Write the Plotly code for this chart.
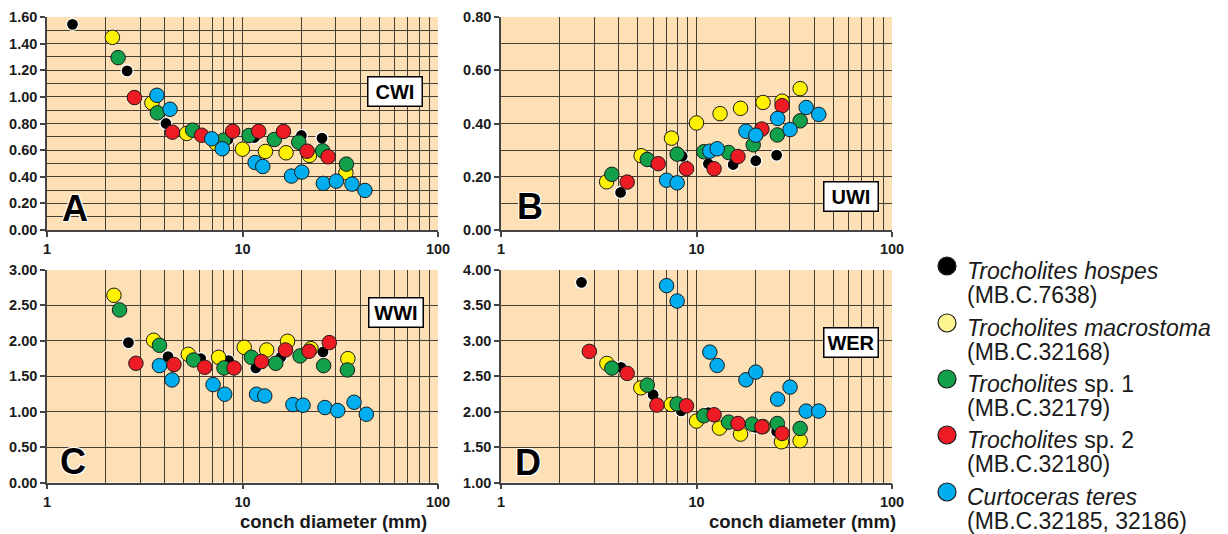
import plotly.graph_objects as go

# ---------------- data ----------------
series_names = ["Trocholites hospes", "Trocholites macrostoma", "Trocholites sp. 1",
                "Trocholites sp. 2", "Curtoceras teres"]
series_codes = ["(MB.C.7638)", "(MB.C.32168)", "(MB.C.32179)", "(MB.C.32180)",
                "(MB.C.32185, 32186)"]
series_colors = ["#000000", "#FFF200", "#12A04B", "#ED1C24", "#00AEEF"]
legend_colors = ["#000000", "#FFF590", "#12A04B", "#ED1C24", "#00AEEF"]

# Panel A: CWI
A_black_x = [1.35, 2.57, 4.06, 8.43, 11.5, 20.0, 25.5]
A_black_y = [1.545, 1.195, 0.80, 0.68, 0.695, 0.71, 0.69]
A_yellow_x = [2.16, 3.44, 5.18, 7.35, 10.0, 13.1, 16.7, 22.0, 33.8]
A_yellow_y = [1.447, 0.955, 0.725, 0.65, 0.607, 0.59, 0.58, 0.56, 0.43]
A_green_x = [2.31, 3.67, 5.56, 8.01, 10.8, 14.55, 19.4, 25.7, 34.0]
A_green_y = [1.295, 0.88, 0.75, 0.675, 0.71, 0.68, 0.66, 0.595, 0.495]
A_red_x = [2.80, 4.38, 6.18, 8.91, 12.1, 16.2, 21.4, 27.4]
A_red_y = [0.995, 0.735, 0.712, 0.742, 0.742, 0.74, 0.592, 0.55]
A_blue_x = [3.65, 4.26, 6.96, 7.88, 11.6, 12.7, 17.8, 20.1, 25.9, 30.2, 36.3, 42.3]
A_blue_y = [1.012, 0.907, 0.685, 0.61, 0.507, 0.477, 0.405, 0.435, 0.35, 0.367, 0.345, 0.297]

# Panel B: UWI
B_black_x = [4.09, 6.08, 8.45, 11.5, 15.4, 20.1, 25.7]
B_black_y = [0.141, 0.25, 0.277, 0.249, 0.246, 0.26, 0.281]
B_yellow_x = [3.47, 5.21, 7.45, 10.0, 13.2, 16.8, 21.9, 27.4, 33.9]
B_yellow_y = [0.181, 0.279, 0.345, 0.402, 0.437, 0.457, 0.479, 0.484, 0.531]
B_green_x = [3.69, 5.60, 7.96, 10.9, 14.6, 19.5, 25.9, 33.9]
B_green_y = [0.209, 0.265, 0.285, 0.294, 0.291, 0.32, 0.357, 0.41]
B_red_x = [4.42, 6.37, 8.89, 12.3, 16.3, 21.6, 27.4]
B_red_y = [0.18, 0.249, 0.23, 0.23, 0.276, 0.379, 0.467]
B_blue_x = [7.03, 7.96, 11.7, 12.75, 17.9, 20.1, 26.0, 30.1, 36.4, 42.2]
B_blue_y = [0.187, 0.177, 0.296, 0.305, 0.371, 0.356, 0.419, 0.377, 0.46, 0.434]

# Panel C: WWI
C_black_x = [2.61, 4.16, 6.11, 8.50, 11.7, 15.7, 25.8]
C_black_y = [1.975, 1.777, 1.749, 1.721, 1.617, 1.768, 1.843]
C_yellow_x = [2.20, 3.51, 5.28, 7.55, 10.2, 13.3, 17.0, 22.4, 34.6]
C_yellow_y = [2.643, 2.008, 1.81, 1.768, 1.909, 1.871, 1.994, 1.89, 1.749]
C_green_x = [2.35, 3.76, 5.62, 8.04, 11.1, 14.8, 19.7, 26.0, 34.4]
C_green_y = [2.436, 1.937, 1.73, 1.617, 1.768, 1.683, 1.787, 1.65, 1.589]
C_red_x = [2.85, 4.46, 6.41, 9.05, 12.5, 16.6, 21.9, 27.8]
C_red_y = [1.683, 1.665, 1.627, 1.617, 1.707, 1.871, 1.853, 1.975]
C_blue_x = [3.76, 4.36, 7.07, 8.11, 11.8, 13.0, 18.1, 20.4, 26.4, 30.7, 37.2, 43.0]
C_blue_y = [1.65, 1.448, 1.382, 1.246, 1.246, 1.222, 1.10, 1.091, 1.058, 1.016, 1.133, 0.964]

# Panel D: WER
D_black_x = [2.58, 4.11, 6.00, 8.35, 11.5, 20.0, 25.7]
D_black_y = [3.826, 2.625, 2.239, 2.012, 1.985, 1.78, 1.72]
D_yellow_x = [3.48, 5.19, 7.42, 10.0, 13.1, 16.8, 21.9, 27.2, 33.9]
D_yellow_y = [2.681, 2.337, 2.102, 1.867, 1.768, 1.683, 1.79, 1.575, 1.59]
D_green_x = [3.69, 5.60, 7.96, 10.9, 14.6, 19.3, 25.9, 33.9]
D_green_y = [2.615, 2.375, 2.11, 1.942, 1.852, 1.824, 1.833, 1.763]
D_red_x = [2.83, 4.42, 6.27, 8.89, 12.3, 16.3, 21.6, 27.4]
D_red_y = [2.851, 2.54, 2.093, 2.083, 1.956, 1.833, 1.786, 1.692]
D_blue_x = [7.03, 7.96, 11.7, 12.75, 17.9, 20.1, 26.0, 30.1, 36.4, 42.2]
D_blue_y = [3.779, 3.562, 2.841, 2.653, 2.45, 2.559, 2.177, 2.347, 2.008, 2.008]

panel_letters = ["A", "B", "C", "D"]
panel_indices = ["CWI", "UWI", "WWI", "WER"]
x_ticks = [1, 10, 100]
x_minor = [2, 3, 4, 5, 6, 7, 8, 9, 20, 30, 40, 50, 60, 70, 80, 90]
y_ranges = [(0, 1.6), (0, 0.8), (0, 3.0), (1.0, 4.0)]
y_dticks = [0.2, 0.2, 0.5, 0.5]
y_minor_dticks = [0.1, 0.1, None, None]
x_title = "conch diameter (mm)"

panels = [
    [(A_black_x, A_black_y), (A_yellow_x, A_yellow_y), (A_green_x, A_green_y), (A_red_x, A_red_y), (A_blue_x, A_blue_y)],
    [(B_black_x, B_black_y), (B_yellow_x, B_yellow_y), (B_green_x, B_green_y), (B_red_x, B_red_y), (B_blue_x, B_blue_y)],
    [(C_black_x, C_black_y), (C_yellow_x, C_yellow_y), (C_green_x, C_green_y), (C_red_x, C_red_y), (C_blue_x, C_blue_y)],
    [(D_black_x, D_black_y), (D_yellow_x, D_yellow_y), (D_green_x, D_green_y), (D_red_x, D_red_y), (D_blue_x, D_blue_y)],
]

# ---------------- layout geometry ----------------
# the page body has an 8px margin, so the figure is 8px smaller and all
# window positions are shifted by 8px
OFF = 8
W, H = 1228 - OFF, 534 - OFF
def fx(px):
    return (px - OFF) / W
def fy(py):
    return 1 - (py - OFF) / H

x_domains = [[fx(47), fx(438)], [fx(501), fx(892)], [fx(47), fx(438)], [fx(501), fx(892)]]
y_domains = [[fy(230), fy(17)], [fy(230), fy(17)], [fy(482.5), fy(270)], [fy(482.5), fy(270)]]
index_pos = [(0.889, 0.648), (0.894, 0.157), (0.893, 0.80), (0.894, 0.658)]
letter_pos = [(0.072, 0.103), (0.074, 0.108), (0.067, 0.097), (0.069, 0.094)]
title_right_px = [None, None, 429, 898]

BG = "#FDE0B5"
GRID = "#463d35"
AXIS = "#444444"
FONT = "Liberation Sans, Arial, sans-serif"
TXT = "#1a1a1a"

fig = go.Figure()
layout = dict(
    width=W, height=H,
    margin=dict(l=0, r=0, t=0, b=0, autoexpand=False),
    paper_bgcolor="white",
    plot_bgcolor=BG,
    showlegend=False,
    font=dict(family=FONT, color=TXT),
)

annotations = []
for i in range(4):
    n = "" if i == 0 else str(i + 1)
    xa, ya = "x" + n, "y" + n
    for s, (xs, ys) in enumerate(panels[i]):
        is_black = s == 0
        fig.add_trace(go.Scatter(
            x=xs, y=ys, mode="markers", xaxis=xa, yaxis=ya,
            name=series_names[s],
            marker=dict(size=12 if is_black else 14.5, color=series_colors[s],
                        line=dict(color="white" if is_black else TXT,
                                  width=1.2 if is_black else 1)),
        ))
    ymin, ymax = y_ranges[i]
    ticks = []
    v = ymin
    while v <= ymax + 1e-9:
        ticks.append(round(v, 4))
        v += y_dticks[i]
    layout["xaxis" + n] = dict(
        domain=x_domains[i], anchor=ya, type="log", range=[0, 2],
        tickvals=x_ticks, ticktext=[str(t) for t in x_ticks],
        tickfont=dict(size=14.5, family=FONT, color=TXT, weight="bold"),
        showgrid=True, gridcolor=GRID, gridwidth=1,
        minor=dict(tickvals=x_minor, showgrid=True, gridcolor=GRID, gridwidth=1, ticklen=0),
        showline=True, linecolor=AXIS, linewidth=1.5,
        ticks="outside", ticklen=5, tickcolor=AXIS, tickwidth=1.5,
        zeroline=False, fixedrange=True, automargin=False,
    )
    ydict = dict(
        domain=y_domains[i], anchor=xa, range=[ymin, ymax],
        tickvals=ticks, ticktext=["%.2f" % t for t in ticks],
        tickfont=dict(size=14.5, family=FONT, color=TXT, weight="bold"),
        showgrid=True, gridcolor=GRID, gridwidth=1,
        showline=True, linecolor=AXIS, linewidth=1.5,
        ticks="outside", ticklen=5, tickcolor=AXIS, tickwidth=1.5,
        zeroline=False, fixedrange=True, automargin=False,
    )
    if y_minor_dticks[i]:
        ydict["minor"] = dict(dtick=y_minor_dticks[i], showgrid=True, gridcolor=GRID,
                              gridwidth=1, ticklen=0)
    layout["yaxis" + n] = ydict

    # index box
    annotations.append(dict(
        text="<b>%s</b>" % panel_indices[i], xref=xa + " domain", yref=ya + " domain",
        x=index_pos[i][0], y=index_pos[i][1], xanchor="center", yanchor="middle",
        showarrow=False, font=dict(size=20, family=FONT, color="black"),
        bgcolor="white", bordercolor="black", borderwidth=1.5,
        width=51, height=26,
    ))
    # panel letter
    annotations.append(dict(
        text="<b>%s</b>" % panel_letters[i], xref=xa + " domain", yref=ya + " domain",
        x=letter_pos[i][0], y=letter_pos[i][1], xanchor="center", yanchor="middle",
        showarrow=False,
        font=dict(size=36, family=FONT, color="black",
                  shadow="1px 1px 0 white, -1px -1px 0 white, 1px -1px 0 white, -1px 1px 0 white"),
    ))
    # x-axis title (right aligned)
    if title_right_px[i]:
        annotations.append(dict(
            text="<b>%s</b>" % x_title, xref="paper", yref="paper",
            x=fx(title_right_px[i]), y=fy(521), xanchor="right", yanchor="middle",
            showarrow=False, font=dict(size=18.5, family=FONT, color=TXT),
        ))

# legend (drawn manually)
leg_y = [266, 323, 379, 435, 492]
shapes = []
for s in range(5):
    cy = leg_y[s]
    shapes.append(dict(type="circle", xref="paper", yref="paper",
                       x0=fx(938), x1=fx(956),
                       y0=fy(cy + 9), y1=fy(cy - 9),
                       fillcolor=legend_colors[s], line=dict(color=TXT, width=1.2)))
    name = series_names[s]
    if name.endswith("sp. 1") or name.endswith("sp. 2"):
        label = "<i>%s</i> %s" % (name[:-6], name[-5:])
    else:
        label = "<i>%s</i>" % name
    annotations.append(dict(
        text=label, xref="paper", yref="paper",
        x=fx(965), y=fy(cy + 5), xanchor="left", yanchor="middle", align="left",
        showarrow=False, font=dict(size=23, family=FONT, color=TXT),
    ))
    annotations.append(dict(
        text=series_codes[s], xref="paper", yref="paper",
        x=fx(965), y=fy(cy + 29), xanchor="left", yanchor="middle", align="left",
        showarrow=False, font=dict(size=23, family=FONT, color=TXT),
    ))

layout["annotations"] = annotations
layout["shapes"] = shapes
fig.update_layout(**layout)
fig.write_html("out.html")
